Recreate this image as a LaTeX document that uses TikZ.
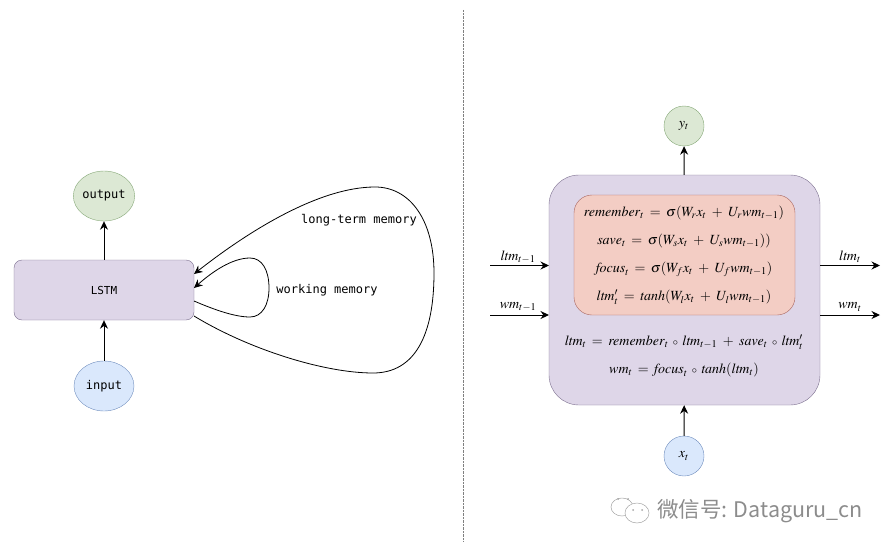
\documentclass[tikz,border=0pt]{standalone}
\usepackage{amsmath}
\usepackage{mathptmx}
\usepackage{fontspec}
\setmonofont{DejaVu Sans Mono}
\newfontfamily\cjk{Noto Sans CJK SC}
\usepackage{tikz}
\usetikzlibrary{arrows.meta}
\usetikzlibrary{shapes.geometric}
\definecolor{cellfill}{HTML}{DED6E8}
\definecolor{celldraw}{HTML}{7D7090}
\definecolor{gatefill}{HTML}{F3CDC4}
\definecolor{gatedraw}{HTML}{A8655F}
\definecolor{outfill}{HTML}{DCE8D4}
\definecolor{outdraw}{HTML}{86A878}
\definecolor{infill}{HTML}{DAE8FC}
\definecolor{indraw}{HTML}{6F8DBD}
\newcommand{\compose}{\mskip-1.5mu\mathbin{\scriptstyle\circ}\mskip-1.5mu}
\tikzset{
	flow/.style={-{Stealth[length=8.5pt,width=8pt]}, line width=1pt},
	loopline/.style={-{Stealth[length=8.5pt,width=8pt]}, line width=0.8pt},
	term/.style={ellipse, draw, inner sep=0pt, minimum width=60pt, minimum height=50pt, font=\ttfamily\fontsize{12}{14}\selectfont},
	ttlabel/.style={inner sep=0pt, font=\ttfamily\fontsize{12}{14}\selectfont},
	eqn/.style={inner sep=0pt, font=\fontsize{14}{16}\selectfont, execute at begin node={\thickmuskip=7mu\medmuskip=7mu}},
	sidelabel/.style={inner sep=0pt, font=\fontsize{14}{16}\selectfont},
}
\begin{document}
\begin{tikzpicture}[x=1pt, y=-1pt]
\useasboundingbox (0,0) rectangle (892,551);
\draw[gray, densely dotted] (463,10) -- (463,541);

\node (lstm) at (104,290) [rectangle, rounded corners=8pt, draw=celldraw, fill=cellfill, minimum width=180pt, minimum height=60pt, inner sep=0pt, font=\ttfamily\fontsize{11}{13}\selectfont]{LSTM};
\node (output) at (104,196) [term, draw=outdraw, fill=outfill]{output};
\node (input) at (104,386) [term, draw=indraw, fill=infill]{input};
\draw[flow] (lstm) -- (output);
\draw[flow] (input) -- (lstm);
\coordinate (longout) at (194,316);
\coordinate (longin) at (194,274);
\coordinate (workout) at (194,301);
\coordinate (workin) at (194,288);
\draw[loopline] (longout) .. controls (250,350) and (325,373) .. (373,373) .. controls (415,373) and (434,335) .. (434,273) .. controls (434,220) and (410,187) .. (375,187) .. controls (320,187) and (250,230) .. (longin);
\draw[loopline] (workout) .. controls (215,310) and (235,317) .. (250,317) .. controls (262,317) and (269,305) .. (269,288) .. controls (269,270) and (262,258) .. (250,258) .. controls (232,258) and (212,272) .. (workin);
\node (longlabel) at (359,220) [ttlabel]{long-term memory};
\node (worklabel) at (327,290) [ttlabel]{working memory};

\node (cell) at (684.5,290) [rectangle, rounded corners=30pt, draw=celldraw, fill=cellfill, minimum width=271pt, minimum height=230pt, inner sep=0pt]{};
\node (gates) at (684.5,255) [rectangle, rounded corners=18pt, draw=gatedraw, fill=gatefill, minimum width=221pt, minimum height=120pt, inner sep=0pt]{};
\node (rememberline) at (684,213) [eqn]{$\mathit{remember}_t = \sigma(W_r x_t + U_r \mathit{wm}_{t-1})$};
\node (saveline) at (684,241) [eqn]{$\mathit{save}_t = \sigma(W_s x_t + U_s \mathit{wm}_{t-1}))$};
\node (focusline) at (684,269) [eqn]{$\mathit{focus}_t = \sigma(W_f x_t + U_f \mathit{wm}_{t-1})$};
\node (tanhline) at (684,297) [eqn]{$\mathit{ltm}'_t = \mathit{tanh}(W_l x_t + U_l \mathit{wm}_{t-1})$};
\node (ltmline) at (684,342) [eqn]{$\mathit{ltm}_t = \mathit{remember}_t \compose \mathit{ltm}_{t-1} + \mathit{save}_t \compose \mathit{ltm}'_t$};
\node (wmline) at (684,370) [eqn]{$\mathit{wm}_t = \mathit{focus}_t \compose \mathit{tanh}(\mathit{ltm}_t)$};

\node (yt) at (684,126) [circle, draw=outdraw, fill=outfill, minimum size=40pt, inner sep=0pt, font=\fontsize{14}{16}\selectfont]{$y_t$};
\node (xt) at (684,456) [circle, draw=indraw, fill=infill, minimum size=40pt, inner sep=0pt, font=\fontsize{14}{16}\selectfont]{$x_t$};
\draw[flow] (cell) -- (yt);
\draw[flow] (xt) -- (cell);

\coordinate (ltmstart) at (490,265.5);
\coordinate (ltmcell) at (549,265.5);
\coordinate (wmstart) at (490,315);
\coordinate (wmcell) at (549,315);
\coordinate (ltmcellout) at (820,265.5);
\coordinate (ltmend) at (880,265.5);
\coordinate (wmcellout) at (820,315);
\coordinate (wmend) at (880,315);
\draw[flow] (ltmstart) -- (ltmcell);
\draw[flow] (wmstart) -- (wmcell);
\draw[flow] (ltmcellout) -- (ltmend);
\draw[flow] (wmcellout) -- (wmend);
\node (ltmprev) at (518,257) [sidelabel]{$\mathit{ltm}_{t-1}$};
\node (wmprev) at (518,307) [sidelabel]{$\mathit{wm}_{t-1}$};
\node (ltmnext) at (850,257) [sidelabel]{$\mathit{ltm}_t$};
\node (wmnext) at (850,307) [sidelabel]{$\mathit{wm}_t$};

\draw[gray!70, line width=0.5pt, fill=white] (622,507) ellipse (11 and 9);
\draw[gray!70, line width=0.5pt, fill=white] (637,513) ellipse (12 and 10);
\fill[gray!70] (633,510) circle (1) (642,510) circle (1) (618,499) circle (1) (628,499) circle (1);
\node (brand) at (760,511) [inner sep=0pt, text=black!45, font=\cjk\fontsize{21.5}{24}\selectfont]{微信号: Dataguru\_cn};
\end{tikzpicture}
\end{document}
